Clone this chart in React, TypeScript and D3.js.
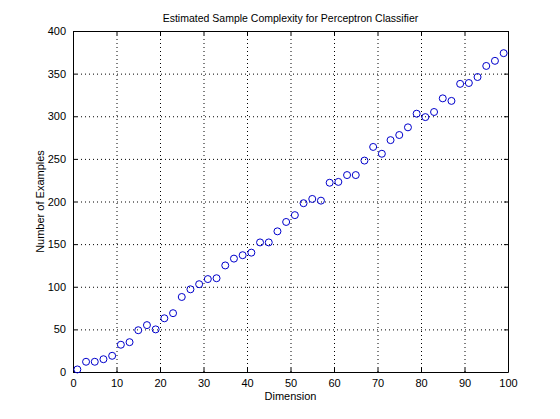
import React, { useEffect, useRef } from "react";
import * as d3 from "d3";

// dimension of the classifier (odd values 1..99)
const dimensions = [
  1, 3, 5, 7, 9, 11, 13, 15, 17, 19, 21, 23, 25, 27, 29, 31, 33, 35, 37, 39,
  41, 43, 45, 47, 49, 51, 53, 55, 57, 59, 61, 63, 65, 67, 69, 71, 73, 75, 77,
  79, 81, 83, 85, 87, 89, 91, 93, 95, 97, 99,
];

// estimated number of training examples needed
const examples = [
  3, 12, 12, 15, 19, 32, 35, 49, 55, 50, 63, 69, 88, 97, 103, 109, 110, 125,
  133, 137, 140, 152, 152, 165, 176, 184, 198, 203, 201, 222, 223, 231, 231,
  248, 264, 256, 272, 278, 287, 303, 299, 305, 321, 318, 338, 339, 346, 359,
  365, 374,
];

const xTicks = [0, 10, 20, 30, 40, 50, 60, 70, 80, 90, 100];
const yTicks = [0, 50, 100, 150, 200, 250, 300, 350, 400];

const W = 560;
const H = 419;
const margin = { top: 31, right: 52, bottom: 47, left: 73 };

const App = () => {
  const ref = useRef<SVGSVGElement | null>(null);

  useEffect(() => {
    const svg = d3.select(ref.current);
    svg.selectAll("*").remove();

    const iw = W - margin.left - margin.right;
    const ih = H - margin.top - margin.bottom;

    const x = d3.scaleLinear().domain([0, 100]).range([0, iw]);
    const y = d3.scaleLinear().domain([0, 400]).range([ih, 0]);

    const g = svg
      .append("g")
      .attr("transform", `translate(${margin.left},${margin.top})`);

    g.append("rect")
      .attr("width", iw)
      .attr("height", ih)
      .attr("fill", "#fff");

    // dotted grid
    g.append("g")
      .selectAll("line")
      .data(xTicks.slice(1, -1))
      .join("line")
      .attr("x1", (d) => x(d) + 0.5)
      .attr("x2", (d) => x(d) + 0.5)
      .attr("y1", 0)
      .attr("y2", ih)
      .attr("stroke", "#000")
      .attr("stroke-dasharray", "1,3");

    g.append("g")
      .selectAll("line")
      .data(yTicks.slice(1, -1))
      .join("line")
      .attr("y1", (d) => y(d) + 0.5)
      .attr("y2", (d) => y(d) + 0.5)
      .attr("x1", 0)
      .attr("x2", iw)
      .attr("stroke", "#000")
      .attr("stroke-dasharray", "1,3");

    const font = "Liberation Sans, Arial, sans-serif";

    // axes with inward ticks, like matlab
    const xAxis = g
      .append("g")
      .attr("transform", `translate(0,${ih})`)
      .call(d3.axisBottom(x).tickValues(xTicks).tickSizeInner(-4).tickSizeOuter(0).tickPadding(7));
    const yAxis = g
      .append("g")
      .call(d3.axisLeft(y).tickValues(yTicks).tickSizeInner(-4).tickSizeOuter(0).tickPadding(7));
    const xTop = g
      .append("g")
      .call(d3.axisTop(x).tickValues(xTicks).tickSizeInner(-4).tickSizeOuter(0).tickFormat(() => ""));
    const yRight = g
      .append("g")
      .attr("transform", `translate(${iw},0)`)
      .call(d3.axisRight(y).tickValues(yTicks).tickSizeInner(-4).tickSizeOuter(0).tickFormat(() => ""));

    [xAxis, yAxis, xTop, yRight].forEach((a) => {
      a.selectAll("text").attr("font-family", font).attr("font-size", 11).attr("fill", "#000");
      a.selectAll("line").attr("stroke", "#000");
      a.select(".domain").attr("stroke", "#000");
    });

    // markers
    g.append("g")
      .selectAll("circle")
      .data(dimensions.map((d, i) => ({ d, v: examples[i] })))
      .join("circle")
      .attr("cx", (p) => x(p.d))
      .attr("cy", (p) => y(p.v))
      .attr("r", 3.5)
      .attr("fill", "none")
      .attr("stroke", "#0000cc")
      .attr("stroke-width", 1);

    svg
      .append("text")
      .attr("x", margin.left + iw / 2)
      .attr("y", 22)
      .attr("text-anchor", "middle")
      .attr("font-family", font)
      .attr("font-size", 10.5)
      .text("Estimated Sample Complexity for Perceptron Classifier");

    svg
      .append("text")
      .attr("x", margin.left + iw / 2)
      .attr("y", 400)
      .attr("text-anchor", "middle")
      .attr("font-family", font)
      .attr("font-size", 11)
      .text("Dimension");

    svg
      .append("text")
      .attr("transform", `translate(44,${margin.top + ih / 2}) rotate(-90)`)
      .attr("text-anchor", "middle")
      .attr("font-family", font)
      .attr("font-size", 11)
      .text("Number of Examples");
  }, []);

  return (
    <svg ref={ref} width={W} height={H} style={{ display: "block", margin: -8 }}></svg>
  );
};

export default App;
